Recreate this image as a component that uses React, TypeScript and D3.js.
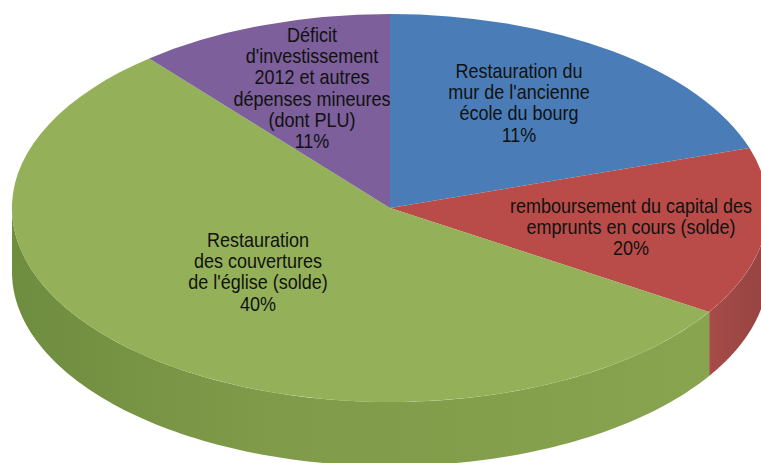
import * as d3 from 'd3';

const sliceNames = ['Restauration du mur', 'remboursement du capital', 'Restauration des couvertures', 'Déficit'];
// shares as drawn; the printed percentages in the labels don't match them
const sliceShares = [20, 14, 55, 11];
const topColors = ['#4a7db8', '#b94c49', '#94b159', '#7c5f9b'];
const labelLines = [
  ['Restauration du', "mur de l'ancienne", 'école du bourg', '11%'],
  ['remboursement du capital des', 'emprunts en cours (solde)', '20%'],
  ['Restauration', 'des couvertures', "de l'église (solde)", '40%'],
  ['Déficit', "d'investissement", '2012 et autres', 'dépenses mineures', '(dont PLU)', '11%'],
];
const labelAnchors = [
  [519, 78],
  [631, 213],
  [258, 247],
  [312, 42],
];

const W = 761;
const H = 463;
const cx = 390;
const cy = 208;
const rx = 378;
const ry = 194;
const depth = 64;
const lineGap = 21.2;
const narrow = 0.9; // no narrow font installed, squeeze Liberation Sans instead

const pie = d3.pie<number>().sort(null).startAngle(0).endAngle(2 * Math.PI);
const arcs = pie(sliceShares);
const topArc = d3.arc<d3.PieArcDatum<number>>().innerRadius(0).outerRadius(1);

const wall = d3
  .area<number>()
  .x((a) => cx + rx * Math.sin(a))
  .y0((a) => cy - ry * Math.cos(a))
  .y1((a) => cy - ry * Math.cos(a) + depth);

// only the front half of the rim shows
function wallPath(start: number, end: number) {
  const from = Math.max(start, Math.PI / 2);
  const to = Math.min(end, (3 * Math.PI) / 2);
  if (to <= from) return null;
  const steps = d3.range(0, 121).map((i) => from + ((to - from) * i) / 120);
  return wall(steps);
}

export default function App() {
  return (
    <svg
      width={W}
      height={H}
      viewBox={`0 0 ${W} ${H}`}
      style={{ position: 'absolute', left: 0, top: 0, display: 'block', background: '#fff' }}
    >
      <defs>
        <linearGradient id="wall-2" gradientUnits="userSpaceOnUse" x1={12} x2={710} y1={0} y2={0}>
          <stop offset="0" stopColor="#6f8d3f" />
          <stop offset="0.35" stopColor="#7f9a49" />
          <stop offset="1" stopColor="#88a44f" />
        </linearGradient>
        <linearGradient id="wall-1" gradientUnits="userSpaceOnUse" x1={710} x2={761} y1={0} y2={0}>
          <stop offset="0" stopColor="#a64b48" />
          <stop offset="1" stopColor="#974442" />
        </linearGradient>
      </defs>
      {arcs.map((d, i) => {
        const p = wallPath(d.startAngle, d.endAngle);
        return p ? <path key={i} d={p} fill={`url(#wall-${i})`} /> : null;
      })}
      <g transform={`translate(${cx},${cy}) scale(${rx},${ry})`}>
        {arcs.map((d, i) => (
          <path key={sliceNames[i]} d={topArc(d) ?? ''} fill={topColors[i]} />
        ))}
      </g>
      <g
        fontFamily="'Liberation Sans', Arial, sans-serif"
        fontSize={20}
        fill="#111"
        textAnchor="middle"
      >
        {labelLines.map((lines, i) => (
          <text key={i} transform={`translate(${labelAnchors[i][0]},${labelAnchors[i][1]}) scale(${narrow},1)`}>
            {lines.map((line, j) => (
              <tspan key={j} x={0} y={j * lineGap}>
                {line}
              </tspan>
            ))}
          </text>
        ))}
      </g>
    </svg>
  );
}
